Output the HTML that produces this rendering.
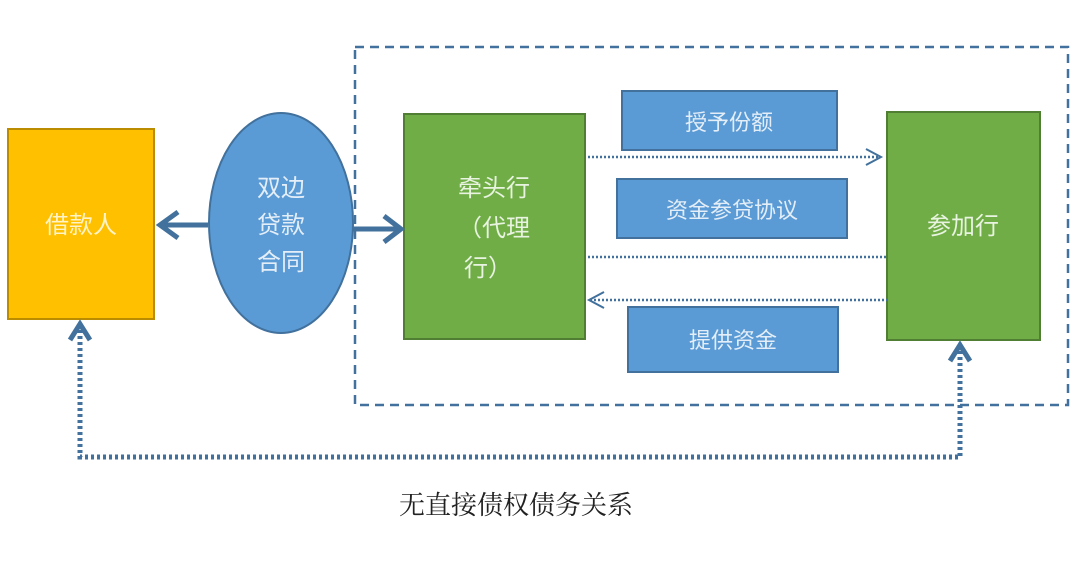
<!DOCTYPE html>
<html><head><meta charset="utf-8"><style>
body{margin:0;background:#fff;}
svg text{font-family:"Liberation Sans","Noto Sans CJK SC",sans-serif;}
</style></head><body>
<svg width="1080" height="573" viewBox="0 0 1080 573" xmlns="http://www.w3.org/2000/svg">
<rect x="355" y="47" width="713" height="358" fill="none" stroke="#41719c" stroke-width="2.5" stroke-dasharray="9,6"/>
<rect x="8" y="129" width="146" height="190" fill="#ffc000" stroke="#bc8c00" stroke-width="2"/>
<text x="81" y="233" font-size="24" fill="#fff3c8" text-anchor="middle">借款人</text>
<ellipse cx="281" cy="223" rx="72" ry="110" fill="#5b9bd5" stroke="#41719c" stroke-width="2"/>
<text x="281" y="196" font-size="24" fill="#e4eef8" text-anchor="middle">双边</text>
<text x="281" y="233" font-size="24" fill="#e4eef8" text-anchor="middle">贷款</text>
<text x="281" y="270" font-size="24" fill="#e4eef8" text-anchor="middle">合同</text>
<rect x="404" y="114" width="181" height="225" fill="#70ad47" stroke="#507e32" stroke-width="2"/>
<text x="494" y="196" font-size="24" fill="#e8f3e0" text-anchor="middle">牵头行</text>
<text x="494" y="236" font-size="24" fill="#e8f3e0" text-anchor="middle">（代理</text>
<text x="488" y="276" font-size="24" fill="#e8f3e0" text-anchor="middle">行）</text>
<rect x="887" y="112" width="153" height="228" fill="#70ad47" stroke="#507e32" stroke-width="2"/>
<text x="963" y="234" font-size="24" fill="#e8f3e0" text-anchor="middle">参加行</text>
<rect x="622" y="91" width="215" height="59" fill="#5b9bd5" stroke="#41719c" stroke-width="2"/>
<text x="729" y="130" font-size="22" fill="#e4eef8" text-anchor="middle">授予份额</text>
<rect x="617" y="179" width="230" height="59" fill="#5b9bd5" stroke="#41719c" stroke-width="2"/>
<text x="732" y="218" font-size="22" fill="#e4eef8" text-anchor="middle">资金参贷协议</text>
<rect x="628" y="307" width="210" height="65" fill="#5b9bd5" stroke="#41719c" stroke-width="2"/>
<text x="733" y="348" font-size="22" fill="#e4eef8" text-anchor="middle">提供资金</text>
<g stroke="#41719c" fill="none">
<line x1="588" y1="157" x2="880" y2="157" stroke-width="2.5" stroke-dasharray="2,2"/>
<polyline points="866,149 881,157 866,165" stroke-width="2"/>
<line x1="588" y1="257" x2="887" y2="257" stroke-width="2.5" stroke-dasharray="2,2"/>
<line x1="590" y1="300" x2="887" y2="300" stroke-width="2.5" stroke-dasharray="2,2"/>
<polyline points="604,292 589,300 604,308" stroke-width="2"/>
<line x1="208" y1="225" x2="160" y2="225" stroke-width="5"/>
<polyline points="178,212 160,225 178,238" stroke-width="5"/>
<line x1="353" y1="229" x2="400" y2="229" stroke-width="5"/>
<polyline points="384,216 401,229 384,242" stroke-width="5"/>
<polyline points="80,330 80,457 960,457 960,350" stroke-width="5" stroke-dasharray="3,3"/>
<polyline points="70,340 80,324 90,340" stroke-width="5"/>
<polyline points="950,361 960,345 970,361" stroke-width="5"/>
</g>
<text x="516" y="514" font-size="26" fill="#222" text-anchor="middle" style="font-family:'Noto Serif CJK SC',serif">无直接债权债务关系</text>
</svg>
</body></html>
